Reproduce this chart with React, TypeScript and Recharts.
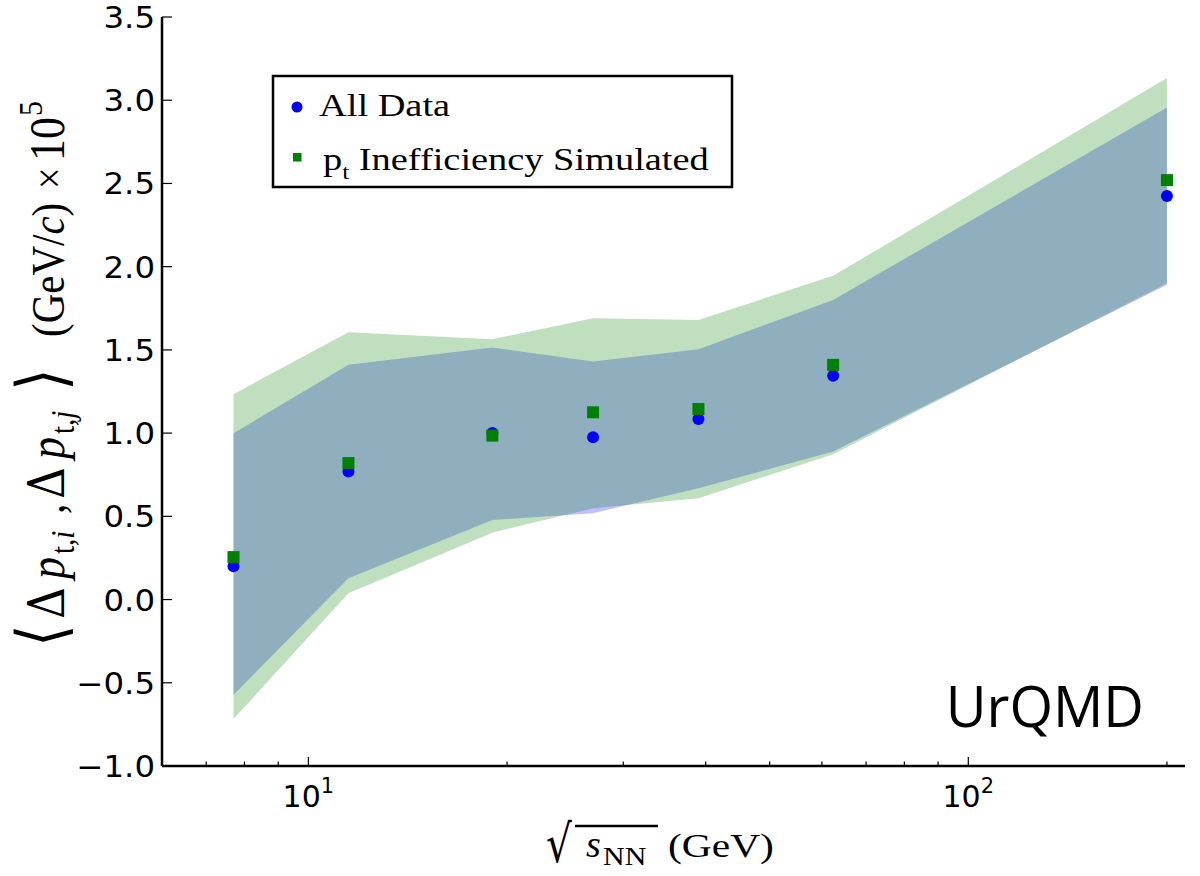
import { ComposedChart, Area, Scatter, XAxis, YAxis } from 'recharts'

// collision energies (GeV)
const energies = [7.7, 11.5, 19.0, 27, 39, 62.4, 200]
// markers
const allData = [0.2, 0.77, 1.0, 0.975, 1.085, 1.345, 2.425]
const ptIneff = [0.255, 0.82, 0.985, 1.125, 1.145, 1.41, 2.52]
// bands
const allLow = [-0.573, 0.128, 0.478, 0.519, 0.669, 0.889, 1.891]
const allHigh = [0.999, 1.41, 1.514, 1.43, 1.504, 1.8, 2.956]
const ineffLow = [-0.718, 0.038, 0.402, 0.549, 0.609, 0.873, 1.9]
const ineffHigh = [1.234, 1.606, 1.564, 1.69, 1.68, 1.945, 3.133]

const xTicks = [7, 8, 9, 10, 20, 30, 40, 50, 60, 70, 80, 90, 100, 200]
const xMajor = [10, 100]
const yTicks = [-1, -0.5, 0, 0.5, 1, 1.5, 2, 2.5, 3, 3.5]

const rows = energies.map((x, i) => ({
  x,
  all: allData[i],
  ineff: ptIneff[i],
  allBand: [allLow[i], allHigh[i]],
  ineffBand: [ineffLow[i], ineffHigh[i]],
}))

const fmtY = (v: number) => (v < 0 ? '\u2212' : '') + Math.abs(v).toFixed(1)

const BottomTick = (props: any) => {
  const { x, y, payload } = props
  const major = xMajor.includes(payload.value)
  return (
    <g>
      <line x1={x} x2={x} y1={y} y2={y - (major ? 9 : 4.5)} stroke="#000" strokeWidth={1.2} />
      {major && (
        <text x={x} y={y + 41} textAnchor="middle" fontFamily="DejaVu Sans" fontSize={30} fill="#000">
          10<tspan dy={-14} fontSize={21}>{Math.round(Math.log10(payload.value))}</tspan>
        </text>
      )}
    </g>
  )
}

const TopTick = (props: any) => {
  const { x, y, payload } = props
  const major = xMajor.includes(payload.value)
  return <line x1={x} x2={x} y1={y} y2={y + (major ? 9 : 4.5)} stroke="#000" strokeWidth={1.2} />
}

const LeftTick = (props: any) => {
  const { x, y, payload } = props
  return (
    <g>
      <line x1={x} x2={x + 10} y1={y} y2={y} stroke="#000" strokeWidth={1.2} />
      <text
        transform={`translate(${x - 7},${y + 11}) scale(1.08,1)`}
        textAnchor="end"
        fontFamily="DejaVu Sans"
        fontSize={30}
        fill="#000"
      >
        {fmtY(payload.value)}
      </text>
    </g>
  )
}

const RightTick = (props: any) => {
  const { x, y } = props
  return <line x1={x} x2={x - 10} y1={y} y2={y} stroke="#000" strokeWidth={1.2} />
}

const Dot = (props: any) => <circle cx={props.cx} cy={props.cy} r={6} fill="#0000ff" />
const Sq = (props: any) => <rect x={props.cx - 6} y={props.cy - 6} width={12} height={12} fill="#008000" />

const axisLine = { stroke: '#000', strokeWidth: 2.5 }

export default function App() {
  return (
    <div style={{ position: 'absolute', left: 0, top: 0, width: 1200, height: 876, background: '#fff' }}>
      <ComposedChart width={1200} height={876} data={rows} margin={{ top: 17, right: 15, bottom: 0, left: 0 }}>
        <XAxis
          xAxisId="b"
          dataKey="x"
          type="number"
          scale="log"
          domain={[6, 213]}
          allowDataOverflow
          ticks={xTicks}
          interval={0}
          tick={BottomTick}
          tickLine={false}
          tickSize={0}
          tickMargin={0}
          height={110}
          axisLine={axisLine}
        />
        <XAxis
          xAxisId="t"
          orientation="top"
          dataKey="x"
          type="number"
          scale="log"
          domain={[6, 213]}
          allowDataOverflow
          ticks={xTicks}
          interval={0}
          tick={TopTick}
          tickLine={false}
          tickSize={0}
          tickMargin={0}
          height={0}
          axisLine={axisLine}
        />
        <YAxis
          yAxisId="l"
          type="number"
          domain={[-1, 3.5]}
          allowDataOverflow
          ticks={yTicks}
          interval={0}
          tick={LeftTick}
          tickLine={false}
          tickSize={0}
          tickMargin={0}
          width={162}
          axisLine={axisLine}
        />
        <YAxis
          yAxisId="r"
          orientation="right"
          type="number"
          domain={[-1, 3.5]}
          allowDataOverflow
          ticks={yTicks}
          interval={0}
          tick={RightTick}
          tickLine={false}
          tickSize={0}
          tickMargin={0}
          width={0}
          axisLine={axisLine}
        />
        <Area
          xAxisId="b"
          yAxisId="l"
          type="linear"
          dataKey="allBand"
          stroke="none"
          fill="#0000ff"
          fillOpacity={0.25}
          dot={false}
          activeDot={false}
          isAnimationActive={false}
        />
        <Area
          xAxisId="b"
          yAxisId="l"
          type="linear"
          dataKey="ineffBand"
          stroke="none"
          fill="#008000"
          fillOpacity={0.25}
          dot={false}
          activeDot={false}
          isAnimationActive={false}
        />
        <Scatter xAxisId="b" yAxisId="l" data={rows} dataKey="all" shape={Dot} isAnimationActive={false} />
        <Scatter xAxisId="b" yAxisId="l" data={rows} dataKey="ineff" shape={Sq} isAnimationActive={false} />
      </ComposedChart>

      <svg width={1200} height={876} style={{ position: 'absolute', left: 0, top: 0, pointerEvents: 'none' }}>
        {/* legend */}
        <rect x={273} y={76} width={459} height={111} fill="#fff" stroke="#000" strokeWidth={2.5} />
        <circle cx={297} cy={107} r={5.5} fill="#0000ff" />
        <text transform="translate(319,116) scale(1.2,1)" fontFamily="Liberation Serif" fontSize={32} fill="#000">
          All Data
        </text>
        <rect x={293} y={153} width={8.5} height={8.5} fill="#008000" />
        <text transform="translate(323,170) scale(1.2,1)" fontFamily="Liberation Serif" fontSize={32} fill="#000">
          p<tspan fontSize={21} dy={9}>t</tspan>
          <tspan dy={-9}> Inefficiency Simulated</tspan>
        </text>

        {/* model tag */}
        <text x={1144} y={727} textAnchor="end" fontFamily="Open Sans" fontSize={56} fill="#000">
          UrQMD
        </text>

        {/* x label */}
        <text transform="translate(546,862) scale(0.78,1)" fontFamily="DejaVu Serif" fontSize={52} fill="#000">
          {'\u221A'}
        </text>
        <line x1={575} x2={658} y1={826} y2={826} stroke="#000" strokeWidth={2.5} />
        <text x={586} y={857} fontFamily="Liberation Serif" fontSize={38} fontStyle="italic" fill="#000">
          s
        </text>
        <text transform="translate(603,865) scale(1.2,1)" fontFamily="Liberation Serif" fontSize={25} fill="#000">
          NN
        </text>
        <text transform="translate(668,857) scale(1.22,1)" fontFamily="Liberation Serif" fontSize={34} fill="#000">
          (GeV)
        </text>

        {/* y label, laid out along the rotated baseline */}
        <g transform="translate(64,647) rotate(-90) scale(1,1.15)">
          <text fontFamily="Liberation Serif" fontSize={42} fill="#000">
            <tspan x={0} fontFamily="DejaVu Serif" fontSize={58}>{'\u27E8'}</tspan>
            <tspan x={28} fontFamily="DejaVu Serif" fontSize={44}>{'\u0394'}</tspan>
            <tspan x={68} fontStyle="italic" fontSize={44}>p</tspan>
            <tspan x={93} fontSize={29} dy={9}>t,</tspan>
            <tspan fontSize={29} fontStyle="italic">i</tspan>
            <tspan x={133} dy={-9}>,</tspan>
            <tspan x={148} fontFamily="DejaVu Serif" fontSize={44}>{'\u0394'}</tspan>
            <tspan x={188} fontStyle="italic" fontSize={44}>p</tspan>
            <tspan x={213} fontSize={29} dy={9}>t,</tspan>
            <tspan fontSize={29} fontStyle="italic">j</tspan>
            <tspan x={256} dy={-9} fontFamily="DejaVu Serif" fontSize={58}>{'\u27E9'}</tspan>
            <tspan x={310} fontSize={41}>(GeV/</tspan>
            <tspan fontStyle="italic" fontSize={41}>c</tspan>
            <tspan fontSize={41}>)</tspan>
            <tspan x={458} fontSize={38}>{'\u00D7'}</tspan>
            <tspan x={486} fontSize={44}>10</tspan>
            <tspan x={531} fontSize={30} dy={-19}>5</tspan>
          </text>
        </g>
      </svg>
    </div>
  )
}
